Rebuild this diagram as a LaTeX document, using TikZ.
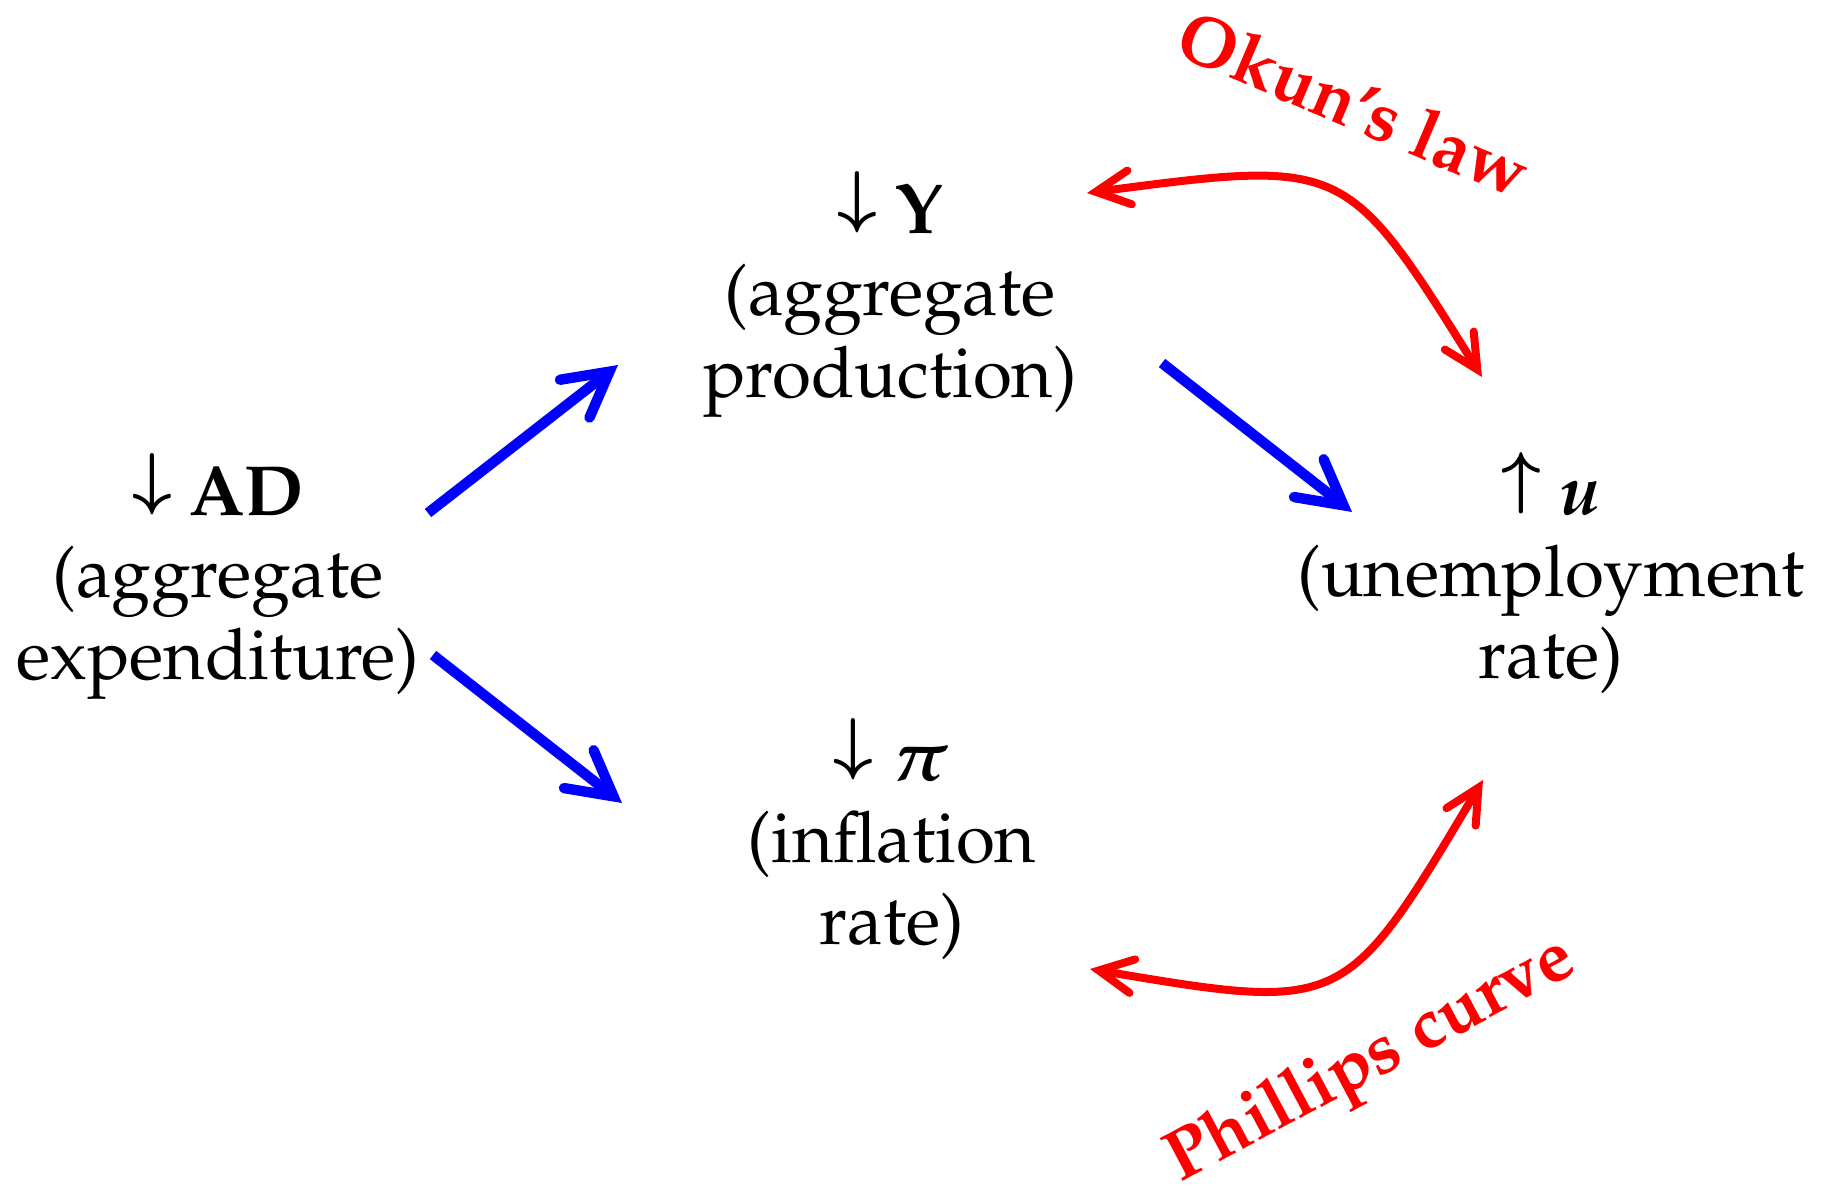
\documentclass[tikz,border=0pt]{standalone}
\usepackage[T1]{fontenc}
\usepackage{amsmath,amssymb}
\usepackage{mathpazo}
\usepackage{bm}
\usetikzlibrary{arrows.meta}
\DeclareSymbolFont{cmbsymbols}{OMS}{cmsy}{b}{n}
\DeclareMathSymbol{\bdarrow}{\mathrel}{cmbsymbols}{"23}
\DeclareMathSymbol{\buarrow}{\mathrel}{cmbsymbols}{"22}
\newcommand{\dn}{\raisebox{0.19em}{$\bdarrow$}}
\newcommand{\upp}{\raisebox{0.19em}{$\buarrow$}}
\begin{document}
\begin{tikzpicture}[x=0.25pt,y=-0.25pt]
\useasboundingbox (0,0) rectangle (1825,1187);
\tikzset{
  lab/.style={align=center, anchor=base, inner sep=0pt,
    font=\fontsize{17.75pt}{20.6pt}\selectfont},
  bluetip/.style={},
  bluearrow/.style={draw=blue, line width=2.6pt,
    -{Straight Barb[length=11pt,width=12pt,line cap=round,line join=miter]}},
  redarrow/.style={draw=red, line width=2pt,
    {Straight Barb[length=8.5pt,width=8.5pt,line cap=round,line join=miter]}-{Straight Barb[length=8.5pt,width=8.5pt,line cap=round,line join=miter]}},
  redlabel/.style={text=red, inner sep=0pt,
    font=\fontsize{17.75pt}{20.6pt}\selectfont\bfseries}
}
% nodes (anchor = baseline of the last line)
\node[lab] (ad) at (218,680) {\dn\ $\mathbf{AD}$\\(aggregate\\expenditure)};
\node[lab] (y)  at (890,398) {\dn\ $\mathbf{Y}$\\(aggregate\\production)};
\node[lab] (pi) at (892,945) {\dn\ $\boldsymbol{\pi}$\\(inflation\\rate)};
\node[lab] (u)  at (1551,679) {\upp\ $\boldsymbol{u}$\\(unemployment\\rate)};
% labels
\node[redlabel, rotate=-23] (okun) at (1354,103) {Okun's law};
\node[redlabel, rotate=28] (phil) at (1372,1062) {Phillips curve};
% connector end points
\coordinate (a1s) at (428,513);
\coordinate (a1e) at (618,365);
\coordinate (a2s) at (1162,363);
\coordinate (a2e) at (1352,512);
\coordinate (a3s) at (433,655);
\coordinate (a3e) at (622,803);
\coordinate (ok1) at (1087,193);
\coordinate (ok2) at (1482,377);
\coordinate (ph1) at (1090,969);
\coordinate (ph2) at (1483,780);
% connectors
\draw[bluearrow] (a1s) -- (a1e);
\draw[bluearrow] (a2s) -- (a2e);
\draw[bluearrow] (a3s) -- (a3e);
\draw[redarrow] (ok1) .. controls (1346,159) and (1346,159) .. (ok2);
\draw[redarrow] (ph1) .. controls (1345,1012) and (1345,1012) .. (ph2);
\end{tikzpicture}
\end{document}
